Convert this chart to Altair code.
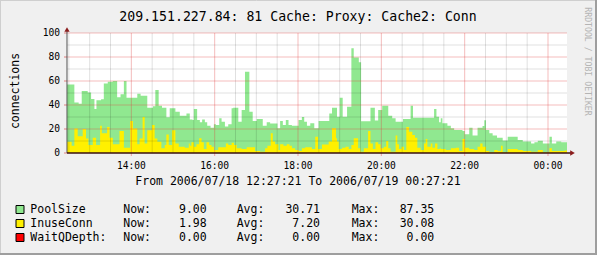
import json
import altair as alt
import pandas as pd

# ---------------- data ----------------
START = "12:27:21"          # first time shown
SPAN = 720                  # minutes shown (12 hours)

# PoolSize: step start (minutes after START) and value
POOL_T = [0, 10.6, 16.8, 21.2, 29.8, 34.7, 39.5, 42.4, 49.1, 53, 58.7, 66, 72.2, 77.1, 81.9, 85.7,
          101.2, 106, 115.6, 123.8, 127.2, 132, 136.8, 143.1, 147.9, 156.1, 162.4, 172, 176.8,
          180.7, 182.6, 187.4, 191.3, 194.6, 198.5, 201.9, 206.7, 211.5, 214.4,
          219.2, 222.6, 227.4, 232.2, 237, 239.4, 246.7, 251.5, 256.3, 262.6,
          267.4, 273.2, 281.9, 287.6, 292.5, 303.1, 306.9, 310.8, 315.1, 319,
          323.8, 333.4, 338.2, 341.6, 345.5, 350.3, 356.1,
          362.3, 377.7, 381.6, 388.8, 392.7, 397, 403.3, 409.5, 412.9, 420.2, 423.5, 437, 443.3,
          448.1, 453.9, 462.6, 468.3, 473.2, 483.8, 494.8, 498.2, 528.6, 532, 535.8,
          538.2, 540.6, 547.8, 552.7, 557.5, 569.5, 572.9, 579.2, 584, 591.2, 598.4, 600.9, 603.3,
          608.1, 612.9, 619.2, 627.4, 634.6, 649, 656.3, 668.3, 673.1, 677.9, 685.2, 694.8, 698.2,
          704.5, 711.7]
POOL_V = [57, 42, 41, 51.7, 50.5, 45, 36.7, 44, 44.7, 58, 59.4, 60, 46.4, 49, 60, 46,
          49.4, 47.8, 37.8, 39, 52.5, 39.4, 37.8, 29.7, 37.2, 34.4, 31, 33, 28,
          27.5, 36.7, 27.5, 25.6, 28, 25.6, 22.8, 21, 23.9, 23.3,
          28.9, 26, 22, 23.9, 37.2, 37.8, 26, 35.8, 67.8, 34.4,
          26.7, 28.4, 22.8, 25.6, 24.5, 20.6, 26.7, 23.3, 27.5, 23.3,
          22.8, 27.5, 30, 26, 22.8, 24.7, 20.6,
          26.7, 33, 37.8, 30.3, 46.1, 30.3, 38.6, 87.3, 79.5, 75.6, 26.5, 37.8, 27,
          35.8, 39.4, 31, 28.9, 26, 28.3, 39.4, 29.4, 36.7, 30.3, 25.6,
          28.9, 24.7, 22.8, 20.6, 19.2, 18.3, 15.6, 21, 14.5, 21, 22.5, 27.3, 19.2,
          16.4, 14.5, 12.8, 10.5, 13.6, 10.9, 9.5, 8, 9, 10.3, 8, 13.6, 8,
          9.5, 9]

# InuseConn: step start (minutes after START) and value
INUSE_T = [0, 6.7, 10.6, 15.4, 22.6, 27.4, 30.8, 37.1, 41.9, 47.7, 50.1, 57.8, 61.2, 66, 75.6,
           81.9, 91, 94.9, 101.2, 104.5, 108.9, 111.8, 115.6, 122.4, 126.2, 130.1, 135.9, 140.7,
           143.1, 146.5, 151.3, 156.1, 160.9, 169.6, 175.4,
           176.8, 179.2, 182.6, 186.4, 190.3, 193.7, 197, 200.9, 204.8, 208.1, 211.5, 217.8,
           228.8, 232.2, 237, 240.4, 244.3, 251.5, 258.7, 270.8, 278, 285.2, 288.6, 293.4,
           296.3, 299.7, 304.5, 306.9, 311.7, 316.5, 320.4, 323.8, 328.6, 333.4, 338.2, 343, 352.7,
           357.5, 361.4, 367.1, 376.8, 381.6, 387.4, 388.8, 391.2, 396.1, 400.9, 405.7, 409.5,
           412.9, 419.2, 422.6, 427.4, 433.6, 437, 440.4, 444.2, 448.1, 451.5, 456.3, 459.7,
           462.6, 465.9, 473.2, 475.6, 478, 481.8, 485.2, 488.6, 492.4, 497.3, 501.1, 504.5,
           509.3, 514.1, 516.5, 518.9, 523.8, 526.2, 530, 533.4, 536.8,
           538.2, 545.4, 552.7, 559.9, 564.7, 569.5, 572.9, 579.2, 586.4, 591.2, 595.1, 598.4,
           603.3, 608.1, 615.3, 620.1, 624.9, 627.4, 634.6, 649, 656.3, 668.3, 677.9, 685.2,
           694.8, 698.2, 716.5]
INUSE_V = [9.4, 6, 20.5, 14, 20, 12, 6.7, 12.8, 6.7, 22.8, 16.4, 21.7, 12.8, 7.2, 18.3,
           4.4, 26.7, 20.5, 7.2, 12, 30, 8, 19, 23.3, 12, 9.4, 3.9, 6.7,
           15.5, 6.7, 19, 8, 5.3, 4.4, 8,
           6, 8.9, 5.3, 7.2, 12.2, 8.9, 3.4, 8.9, 6.7, 5.3, 2.5, 4.7,
           8, 6.7, 8.6, 6.7, 3.9, 3.4, 4.7, 1.7, 1.1, 3.9, 6, 16.4,
           9.5, 7.2, 2.5, 7.2, 6, 7.2, 6, 3.9, 2.5, 1.7, 3.9, 4.7, 3.4,
           13.6, 3.4, 7, 9.5, 20.6, 12.2, 9.5, 3.4, 4.4, 5.3, 3.4, 6.7,
           12.2, 3.9, 1.1, 3.9, 18.3, 8, 3.4, 8.9, 7.2, 3.9, 5.3, 10,
           3.9, 1.1, 14.5, 7.2, 3.4, 5.3, 2.5, 21.7, 17.8, 15, 12.8, 4.4,
           2.5, 8, 11.7, 5.3, 8, 4.4, 8, 3.4, 4,
           3.4, 2.5, 3.9, 4.4, 1.7, 11.7, 4.4, 3.4, 2.5, 5.3, 8, 5.3,
           1.7, 0.6, 2.5, 1.7, 6, 0.6, 3.4, 2.5, 1.7, 1.1, 2.5, 0.6,
           3.9, 1.7, 2]

X_LABELS = ["14:00", "16:00", "18:00", "20:00", "22:00", "00:00"]
Y_LABELS = [0, 20, 40, 60, 80, 100]
Y_MAJOR = [20, 40, 60, 80, 100]
Y_MINOR = [10, 30, 50, 70, 90]

LEG_NAMES = ["PoolSize", "InuseConn", "WaitQDepth:"]
LEG_NOW = ["9.00", "1.98", "0.00"]
LEG_AVG = ["30.71", "7.20", "0.00"]
LEG_MAX = ["87.35", "30.08", "0.00"]
LEG_COLORS = ["#90E890", "#FFF000", "#FF0000"]

TITLE = "209.151.227.84: 81 Cache: Proxy: Cache2: Conn"
SUBTITLE = "From 2006/07/18 12:27:21 To 2006/07/19 00:27:21"
Y_TITLE = "connections"
WATERMARK = "RRDTOOL / TOBI OETIKER"

# ---------------- derived ----------------
h, m, s = (int(p) for p in START.split(":"))
start_min = h * 60 + m + s / 60.0


def clock_offset(lbl):
    hh, mm = (int(p) for p in lbl.split(":"))
    v = hh * 60 + mm - start_min
    if v < 0:
        v += 1440
    return round(v, 4)


X_MAJOR = [clock_offset(l) for l in X_LABELS]
X_MINOR = []
t = (int(start_min) // 30 + 1) * 30
while t <= start_min + SPAN:
    if t % 120 != 0:
        X_MINOR.append(round(t - start_min, 4))
    t += 30

pool_df = pd.DataFrame({"t": POOL_T + [SPAN], "v": POOL_V + [POOL_V[-1]]})
inuse_df = pd.DataFrame({"t": INUSE_T + [SPAN], "v": INUSE_V + [INUSE_V[-1]]})

W, H = 500, 120
OX, OY = 67, 33  # plot origin in the page
FONT = "DejaVu Sans Mono"
GREEN, YELLOW = LEG_COLORS[0], LEG_COLORS[1]
AXIS_COL = "#3a1010"
ARROW_COL = "#8b1c1c"

xs = alt.Scale(domain=[0, SPAN], nice=False, zero=False)
ys = alt.Scale(domain=[0, 100], nice=False)


def X(field):
    return alt.X(field, scale=xs, axis=None)


def Y(field):
    return alt.Y(field, scale=ys, axis=None)


pool = alt.Chart(pool_df).mark_area(interpolate="step-after", color=GREEN).encode(
    x=X("t:Q"), y=Y("v:Q"))
inuse = alt.Chart(inuse_df).mark_area(interpolate="step-after", color=YELLOW).encode(
    x=X("t:Q"), y=Y("v:Q"))

grid_h_minor = alt.Chart(pd.DataFrame({"y": Y_MINOR})).mark_rule(
    color="#000000", opacity=0.12, strokeWidth=1).encode(y=Y("y:Q"))
grid_v_minor = alt.Chart(pd.DataFrame({"x": X_MINOR})).mark_rule(
    color="#000000", opacity=0.12, strokeWidth=1).encode(x=X("x:Q"))
grid_h_major = alt.Chart(pd.DataFrame({"y": Y_MAJOR})).mark_rule(
    color="#e04040", opacity=0.35, strokeWidth=1).encode(y=Y("y:Q"))
grid_v_major = alt.Chart(pd.DataFrame({"x": X_MAJOR})).mark_rule(
    color="#e04040", opacity=0.35, strokeWidth=1).encode(x=X("x:Q"))

# axis labels and ticks, placed through the scales
ylab_df = pd.DataFrame({"v": Y_LABELS, "s": [str(v) for v in Y_LABELS]})
y_labels = alt.Chart(ylab_df).mark_text(font=FONT, fontSize=9.6, align="right",
                                        baseline="middle", color="#000000").encode(
    y=Y("v:Q"), x=alt.value(-7), text="s:N")
y_ticks = alt.Chart(ylab_df).mark_rule(color="#e08080", strokeWidth=1).encode(
    y=Y("v:Q"), x=alt.value(-3), x2=alt.value(0))
xlab_df = pd.DataFrame({"t": X_MAJOR, "s": X_LABELS})
x_labels = alt.Chart(xlab_df).mark_text(font=FONT, fontSize=9.6, align="center",
                                        baseline="alphabetic", color="#000000").encode(
    x=X("t:Q"), y=alt.value(168.8 - OY), text="s:N")
x_ticks = alt.Chart(xlab_df).mark_rule(color="#f0a0a0", strokeWidth=1).encode(
    x=X("t:Q"), y=alt.value(H), y2=alt.value(H + 3))

one = pd.DataFrame({"a": [0]})
y_axis_line = alt.Chart(one).mark_rule(color="#505050", strokeWidth=1).encode(
    x=alt.value(0), y=alt.value(-4), y2=alt.value(H))
x_axis_line = alt.Chart(one).mark_rule(color=AXIS_COL, strokeWidth=1.5).encode(
    x=alt.value(0), x2=alt.value(505), y=alt.value(H))
arrow_up = alt.Chart(one).mark_point(shape="triangle-up", filled=True, size=28,
                                     color=ARROW_COL, opacity=1).encode(
    x=alt.value(0), y=alt.value(-3.5))
arrow_right = alt.Chart(one).mark_point(shape="triangle-right", filled=True, size=28,
                                        color=ARROW_COL, opacity=1).encode(
    x=alt.value(505.5), y=alt.value(H))


def txt(s, x, y, size=11.5, align="left", baseline="alphabetic", angle=0, color="#000000"):
    return alt.Chart(pd.DataFrame({"s": [s]})).mark_text(
        font=FONT, fontSize=size, align=align, baseline=baseline, angle=angle,
        color=color).encode(x=alt.value(x), y=alt.value(y), text="s:N")


layers = [pool, inuse, grid_h_minor, grid_v_minor, grid_h_major, grid_v_major,
          y_ticks, x_ticks, y_axis_line, x_axis_line, arrow_up, arrow_right,
          y_labels, x_labels]

layers.append(txt(TITLE, 298 - OX, 20.7 - OY, size=13.2, align="center"))
layers.append(txt(Y_TITLE, 19.3 - OX, 91 - OY, size=11.5, align="center", angle=270))
layers.append(txt(SUBTITLE, 298 - OX, 184.5 - OY, size=11.5, align="center"))
layers.append(txt(WATERMARK, 587 - OX, 61.5 - OY, size=8.2, align="center",
                  baseline="middle", angle=90, color="#b4b4b4"))

for i, name in enumerate(LEG_NAMES):
    base = 213.3 + 14 * i - OY
    layers.append(alt.Chart(one).mark_square(size=64, filled=True, color=LEG_COLORS[i],
                                             stroke="#000000", strokeWidth=1, opacity=1).encode(
        x=alt.value(20 - OX), y=alt.value(base - 3.8)))
    layers.append(txt(name, 30.3 - OX, base))
    layers.append(txt("Now:", 123.3 - OX, base))
    layers.append(txt(LEG_NOW[i], 206.7 - OX, base, align="right"))
    layers.append(txt("Avg:", 236.7 - OX, base))
    layers.append(txt(LEG_AVG[i], 320 - OX, base, align="right"))
    layers.append(txt("Max:", 351.7 - OX, base))
    layers.append(txt(LEG_MAX[i], 434.3 - OX, base, align="right"))

# frame shading
layers.append(alt.Chart(one).mark_rule(color="#cfcfcf", strokeWidth=1).encode(
    x=alt.value(-OX), x2=alt.value(597 - OX), y=alt.value(0.5 - OY)))
layers.append(alt.Chart(one).mark_rule(color="#cfcfcf", strokeWidth=1).encode(
    x=alt.value(0.5 - OX), y=alt.value(-OY), y2=alt.value(255 - OY)))
layers.append(alt.Chart(one).mark_rule(color="#9e9e9e", strokeWidth=2).encode(
    x=alt.value(-OX), x2=alt.value(597 - OX), y=alt.value(254 - OY)))
layers.append(alt.Chart(one).mark_rule(color="#9e9e9e", strokeWidth=2).encode(
    x=alt.value(596 - OX), y=alt.value(-OY), y2=alt.value(255 - OY)))

chart = alt.layer(*layers).properties(
    width=W, height=H,
    autosize=alt.AutoSizeParams(type="none"),
    padding={"left": OX, "top": OY, "right": 597 - OX - W, "bottom": 255 - OY - H},
    background="#F0F0F0",
).configure_view(fill="#FFFFFF", strokeWidth=0)

chart.save("out.html", embed_options={"renderer": "svg", "actions": False})
